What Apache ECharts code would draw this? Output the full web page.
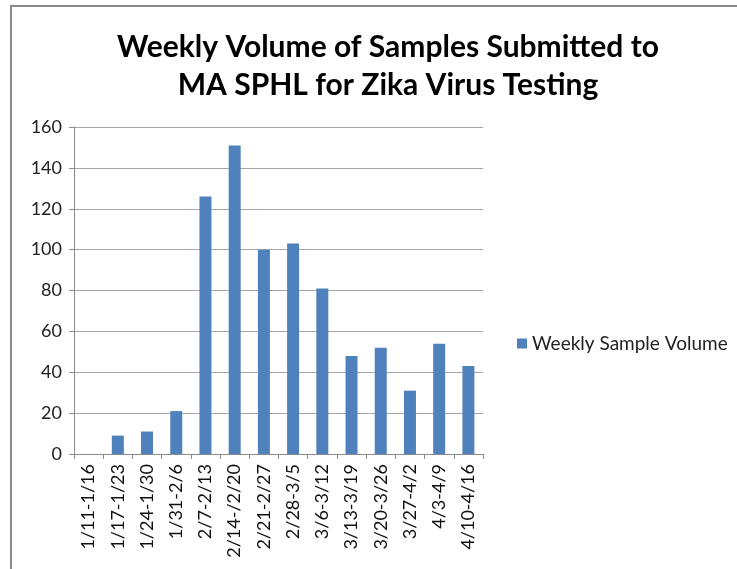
<!DOCTYPE html>
<html>
<head>
<meta charset="utf-8">
<script src="https://cdn.jsdelivr.net/npm/echarts@6/dist/echarts.min.js"></script>
<style>
  html, body { margin: 0; padding: 0; background: #fff; overflow: hidden; }
  #chart { width: 737px; height: 569px; }
</style>
</head>
<body>
<div id="chart"></div>
<script>
// weeks (2016)
const weeks = ['1/11-1/16', '1/17-1/23', '1/24-1/30', '1/31-2/6', '2/7-2/13', '2/14-/2/20', '2/21-2/27',
  '2/28-3/5', '3/6-3/12', '3/13-3/19', '3/20-3/26', '3/27-4/2', '4/3-4/9', '4/10-4/16']
const sampleVolume = [0, 9, 11, 21, 126, 151, 100, 103, 81, 48, 52, 31, 54, 43]
const yTicks = [0, 20, 40, 60, 80, 100, 120, 140, 160]

const font = 'Lato, "Open Sans", sans-serif'
const myChart = echarts.init(document.getElementById('chart'))

myChart.setOption({
  animation: false,
  // outer chart frame (only left and top edges are visible)
  graphic: [
    {
      type: 'polyline',
      shape: { points: [[11, 575], [11, 6], [745, 6]] },
      style: { stroke: '#8a8a8a', lineWidth: 2, fill: null }
    }
  ],
  title: {
    text: 'Weekly Volume of Samples Submitted to\nMA SPHL for Zika Virus Testing',
    left: 383,
    textAlign: 'center',
    top: 23,
    textStyle: {
      fontFamily: font,
      fontWeight: 'bold',
      fontSize: 30,
      lineHeight: 38,
      color: '#000'
    }
  },
  legend: {
    data: ['Weekly Sample Volume'],
    left: 512,
    top: 329,
    icon: 'rect',
    itemWidth: 10,
    itemHeight: 10,
    itemGap: 6,
    textStyle: { fontFamily: font, fontSize: 19, color: '#222' }
  },
  grid: {
    left: 74,
    right: 254,
    top: 127,
    bottom: 115
  },
  xAxis: {
    type: 'category',
    data: weeks,
    axisLine: { lineStyle: { color: '#8c8c8c', width: 1 } },
    axisTick: { show: true, length: 5, lineStyle: { color: '#8c8c8c' } },
    axisLabel: {
      interval: 0,
      rotate: 90,
      margin: 10,
      fontFamily: font,
      fontSize: 18,
      color: '#111'
    }
  },
  yAxis: {
    type: 'value',
    min: yTicks[0],
    max: yTicks[yTicks.length - 1],
    interval: 20,
    axisLine: { show: true, lineStyle: { color: '#8c8c8c' } },
    axisTick: { show: true, length: 5, lineStyle: { color: '#8c8c8c' } },
    axisLabel: { margin: 12, fontFamily: font, fontSize: 18, color: '#222' },
    splitLine: { lineStyle: { color: '#a6a6a6', width: 1 } }
  },
  series: [
    {
      type: 'bar',
      name: 'Weekly Sample Volume',
      data: sampleVolume,
      barWidth: 12,
      itemStyle: { color: '#4f81bd' }
    }
  ]
})
</script>
</body>
</html>
